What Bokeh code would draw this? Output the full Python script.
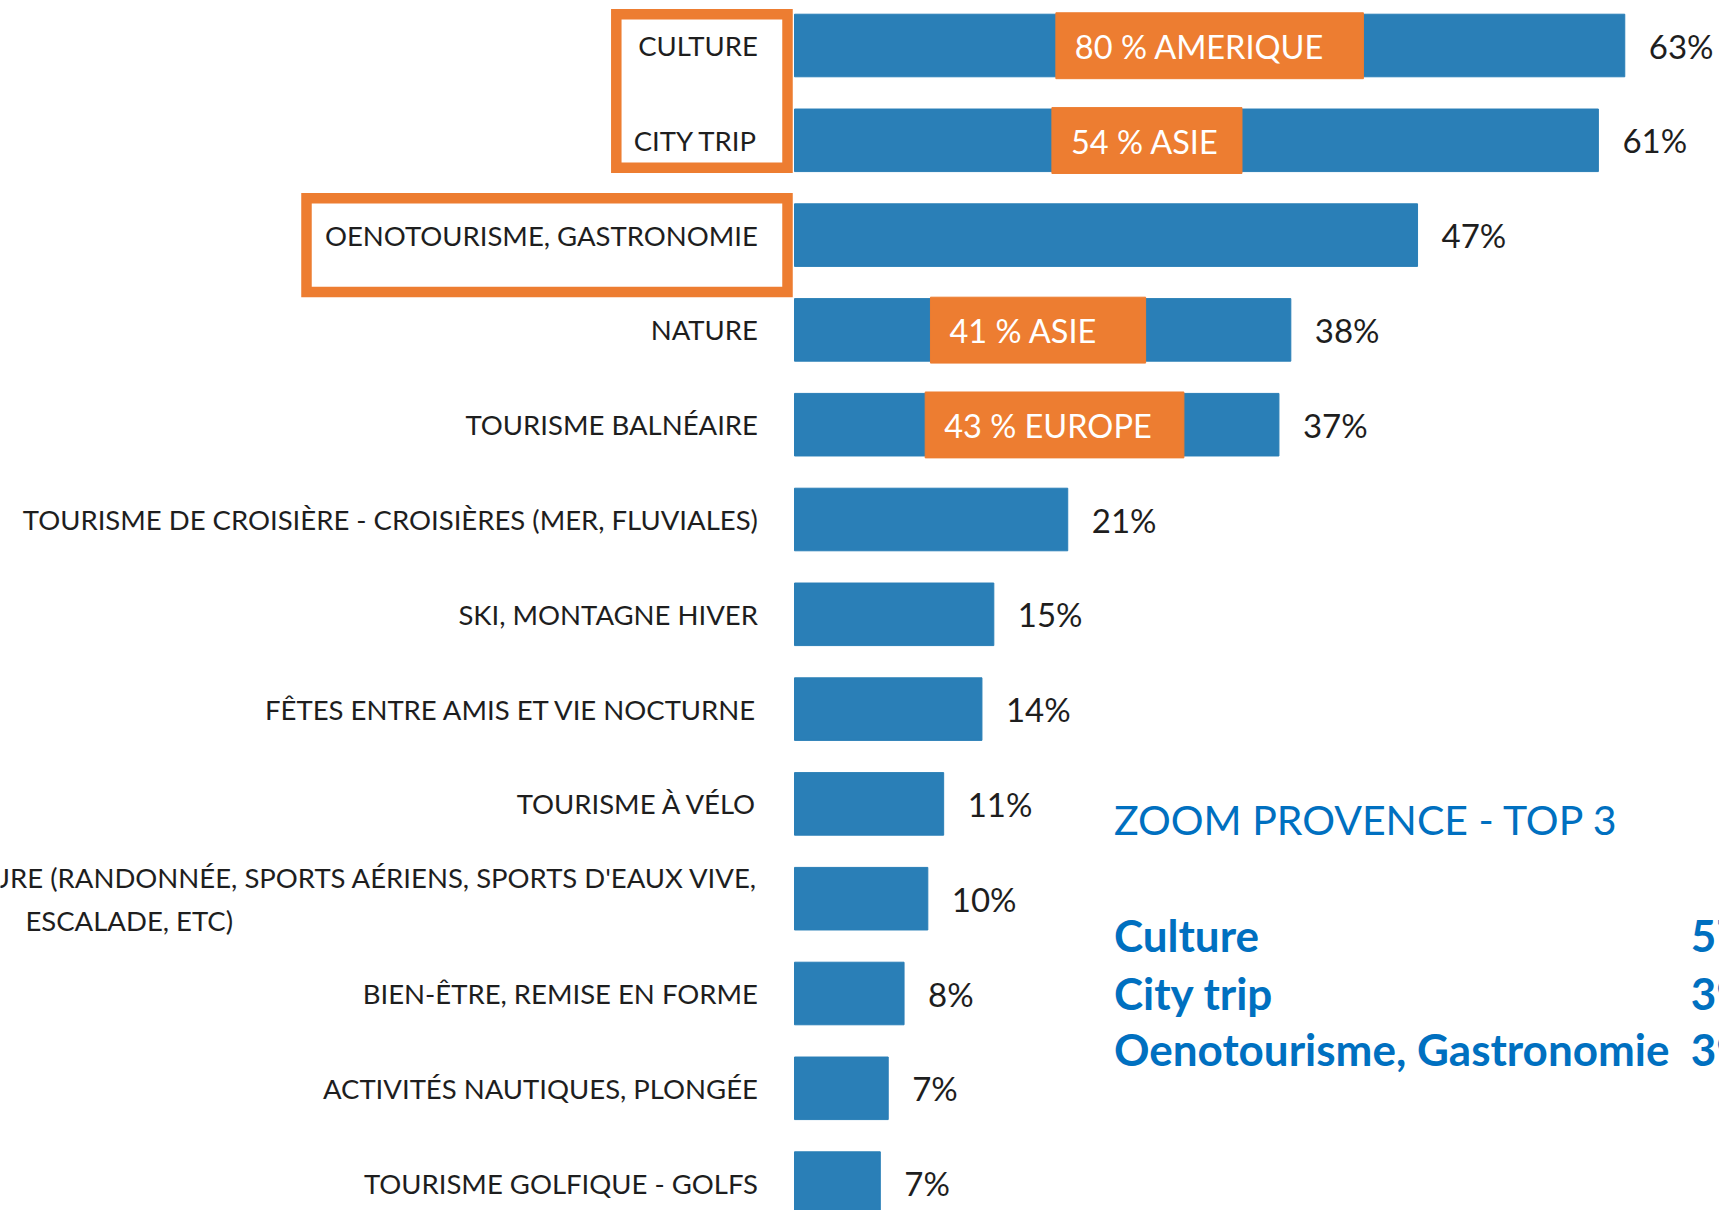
from bokeh.plotting import figure
from bokeh.models import Range1d
from bokeh.core.properties import value
from bokeh.embed import file_html
from bokeh.resources import INLINE

# ---- data ----
categories = [
    "Culture", "City trip", "Oenotourisme, gastronomie", "Nature",
    "Tourisme balnéaire", "Tourisme de croisière - croisières (mer, fluviales)",
    "Ski, montagne hiver", "Fêtes entre amis et vie nocturne", "Tourisme à vélo",
    "Sports de pleine nature (randonnée, sports aériens, sports d'eaux vive,",
    "Bien-être, remise en forme", "Activités nautiques, plongée",
    "Tourisme golfique - Golfs",
]
label_line2 = "escalade, etc)"
# bar lengths (labels show the rounded values)
values = [62.9, 60.9, 47.2, 37.6, 36.7, 20.7, 15.1, 14.2, 11.3, 10.1, 8.3, 7.1, 6.5]
value_labels = ["63%", "61%", "47%", "38%", "37%", "21%", "15%", "14%", "11%", "10%", "8%", "7%", "7%"]

callout_rows = [0, 1, 3, 4]
callout_texts = ["80 % AMERIQUE", "54 % ASIE", "41 % ASIE", "43 % EUROPE"]
callout_left = [19.8, 19.5, 10.3, 9.9]
callout_right = [43.1, 33.9, 26.6, 29.5]

highlight_groups = [[0, 1], [2]]

zoom_title = "ZOOM PROVENCE - TOP 3"
zoom_items = ["Culture", "City trip", "Oenotourisme, Gastronomie"]
zoom_values = ["57%", "39%", "39%"]

# ---- style ----
BAR = "#2A7FB7"
ORANGE = "#ED7D31"
BLUE_TXT = "#0070C0"
DARK = "#1E1E1E"
FONT = value("Lato")

W, H = 1719, 1210
px_per_unit = 13.2
x0_px = 794
row_px = 94.8
row0_px = 45

p = figure(
    width=W, height=H,
    x_range=Range1d(-x0_px / px_per_unit, (W - x0_px) / px_per_unit),
    y_range=Range1d((H - row0_px) / row_px, -row0_px / row_px),
    output_backend="svg", toolbar_location=None, min_border=0,
)
p.axis.visible = False
p.grid.visible = False
p.outline_line_color = None
p.background_fill_color = "white"

idx = list(range(len(categories)))

# bars
p.hbar(y=idx, left=0, right=values, height=0.66, color=BAR)

# value labels
p.text(x=values, y=idx, text=value_labels, x_offset=24, text_baseline="middle",
       text_align="left", text_font=FONT, text_font_size="33px", text_color=DARK)

# category labels (small caps approximated by uppercase)
label_x = -2.77
single = [i for i in idx if i != 9]
p.text(x=[label_x] * len(single), y=single, text=[categories[i].upper() for i in single],
       text_align="right", text_baseline="middle", text_font=FONT,
       text_font_size="27.5px", text_color=DARK)
p.text(x=[label_x], y=[9], text=[categories[9].upper()], y_offset=-21,
       text_align="right", text_baseline="middle", text_font=FONT,
       text_font_size="27.5px", text_color=DARK)
p.text(x=[-50.4], y=[9], text=[label_line2.upper()], y_offset=22,
       text_align="center", text_baseline="middle", text_font=FONT,
       text_font_size="27.5px", text_color=DARK)

# orange callouts in bars
p.quad(left=callout_left, right=callout_right,
       top=[r - 0.345 for r in callout_rows], bottom=[r + 0.35 for r in callout_rows],
       color=ORANGE)
p.text(x=callout_left, y=callout_rows, text=callout_texts, x_offset=19, y_offset=1,
       text_baseline="middle", text_font=FONT, text_font_size="32.5px", text_color="white")

# orange highlight frames around labels
frame_left = [-13.5, -36.97]
frame_right = [-0.53, -0.53]
frame_top = [highlight_groups[0][0] - 0.33, highlight_groups[1][0] - 0.39]
frame_bottom = [highlight_groups[0][-1] + 0.29, highlight_groups[1][-1] + 0.60]
p.quad(left=frame_left, right=frame_right, top=frame_top, bottom=frame_bottom,
       fill_color=None, line_color=ORANGE, line_width=10.5, line_join="miter")

# zoom Provence block
zx = 24.2
p.text(x=[zx], y=[8.16], text=[zoom_title], text_baseline="middle",
       text_font=FONT, text_font_size="41px", text_color=BLUE_TXT)
zy = [9.38, 9.99, 10.59]
p.text(x=[zx] * 3, y=zy, text=zoom_items, text_baseline="middle",
       text_font=FONT, text_font_size="44px", text_font_style="bold", text_color=BLUE_TXT)
p.text(x=[67.9] * 3, y=zy, text=zoom_values, text_baseline="middle",
       text_font=FONT, text_font_size="44px", text_font_style="bold", text_color=BLUE_TXT)

open("out.html", "w").write(file_html(p, INLINE))
